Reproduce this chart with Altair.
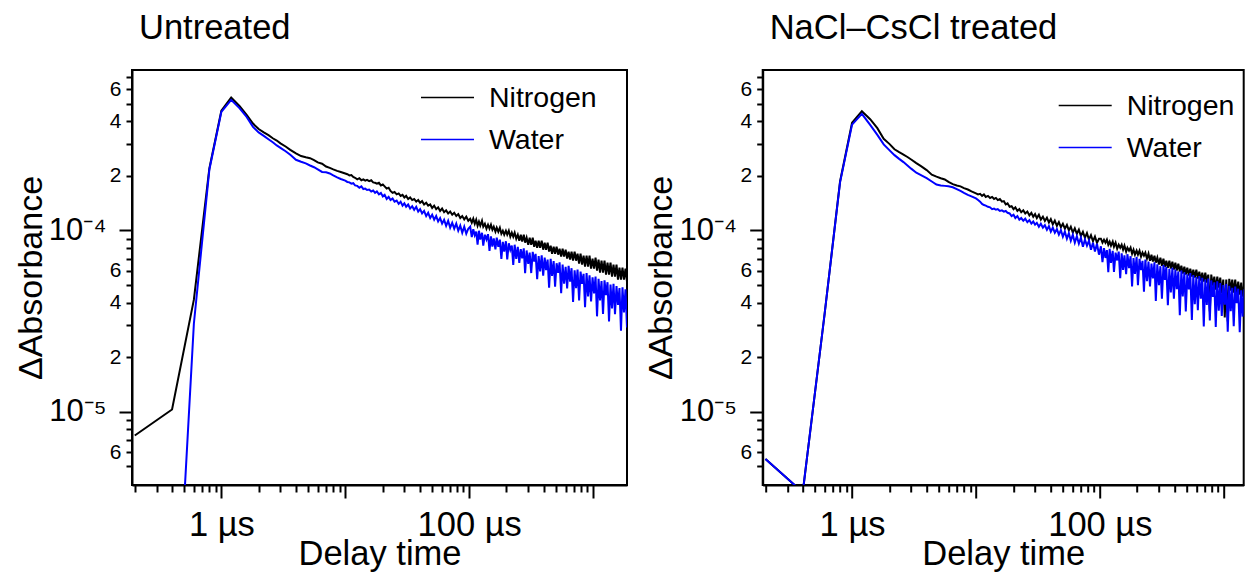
import altair as alt
import pandas as pd

# Delay time grid (microseconds)
time_us = [
    0.2, 0.4, 0.6, 0.8, 1.0, 1.2, 1.4, 1.6, 1.8, 2.0,
    2.2, 2.4, 2.6, 2.8, 3.0, 3.3, 3.6, 4.0, 4.4, 4.8, 5.2, 5.6, 6.0, 6.5, 7.0, 7.5, 8.0, 8.6, 9.2, 10,
    10.4, 10.8, 11.2, 11.6, 12, 12.5, 13, 13.5, 14, 14.5, 15, 15.6, 16.2, 16.8, 17.4, 18, 18.7, 19.4, 20.1, 20.8,
    21.6, 22.4, 23.2, 24.1, 25, 26, 27, 28, 29, 30, 31, 32.2, 33.4, 34.7, 36, 37.4, 38.8, 40.2, 41.7, 43.3,
    45, 46.7, 48.5, 50.3, 52.2, 54.2, 56.2, 58.3, 60.5, 62.8, 65.2, 67.7, 70.3, 73, 75.8, 78.7, 81.7, 84.8, 88, 91.3,
    94.8, 98.4,
    102, 105, 108, 111, 114, 117, 120, 123, 127, 130, 134, 138, 142, 146, 150, 154, 158, 163, 167, 172,
    177, 182, 187, 192, 198, 203, 209, 215, 221, 227, 233, 240, 247, 254, 261, 268, 276, 283, 291, 300,
    308, 317, 326, 335, 344, 354, 364, 374, 385, 396, 407, 418, 430, 442, 455, 467, 481, 494, 508, 523,
    537, 553, 568, 584, 601, 618, 635, 653, 671, 690, 710, 730, 750, 772, 793, 816, 839, 862, 887, 912,
    937, 964, 991, 1019, 1048, 1077, 1108, 1139, 1171, 1204, 1238, 1273, 1309, 1346, 1384, 1423, 1463, 1504, 1547, 1590,
    1635, 1681, 1729, 1777, 1828, 1880,
]

# Delta absorbance, in units of 1e-4
untreated_nitrogen_e4 = [
    0.074, 0.103, 0.415, 2.2, 4.57, 5.4, 4.85, 4.33, 3.88, 3.62,
    3.47, 3.35, 3.22, 3.13, 3.02, 2.9, 2.78, 2.66, 2.57, 2.53, 2.50, 2.44, 2.37, 2.33, 2.25, 2.21, 2.17, 2.13, 2.10, 2.06,
    2.04, 2.01, 2.02, 1.97, 1.95, 1.91, 1.94, 1.89, 1.91, 1.88, 1.90, 1.87, 1.89, 1.84, 1.83, 1.81, 1.83, 1.77, 1.79, 1.75,
    1.70, 1.72, 1.65, 1.61, 1.63, 1.58, 1.60, 1.55, 1.57, 1.52, 1.55, 1.49, 1.52, 1.47, 1.49, 1.44, 1.47, 1.42, 1.45, 1.39,
    1.42, 1.37, 1.39, 1.33, 1.37, 1.31, 1.34, 1.28, 1.32, 1.26, 1.29, 1.24, 1.27, 1.22, 1.25, 1.20, 1.23, 1.17, 1.20, 1.15,
    1.19, 1.13,
    1.160, 1.103, 1.160, 1.089, 1.145, 1.062, 1.117, 1.062, 1.131, 1.048, 1.089, 1.022, 1.075, 1.022, 1.075, 1.009, 1.048, 0.984, 1.035, 0.984,
    1.035, 0.959, 0.996, 0.947, 0.996, 0.947, 0.996, 0.923, 0.971, 0.923, 0.971, 0.900, 0.947, 0.878, 0.947, 0.867, 0.947, 0.856, 0.912, 0.834,
    0.912, 0.834, 0.912, 0.813, 0.878, 0.803, 0.878, 0.803, 0.878, 0.783, 0.856, 0.783, 0.856, 0.764, 0.824, 0.744, 0.813, 0.744, 0.813, 0.735,
    0.793, 0.717, 0.793, 0.717, 0.783, 0.699, 0.764, 0.690, 0.764, 0.681, 0.764, 0.681, 0.744, 0.656, 0.744, 0.648, 0.726, 0.631, 0.726, 0.631,
    0.726, 0.616, 0.699, 0.616, 0.708, 0.600, 0.690, 0.585, 0.681, 0.585, 0.681, 0.571, 0.664, 0.571, 0.664, 0.556, 0.648, 0.556, 0.648, 0.536,
    0.623, 0.536, 0.623, 0.536, 0.616, 0.522,
]
untreated_water_e4 = [
    None, 0.002, 0.306, 2.16, 4.5, 5.24, 4.72, 4.22, 3.72, 3.47,
    3.32, 3.18, 3.06, 2.94, 2.85, 2.73, 2.61, 2.45, 2.39, 2.34, 2.28, 2.23, 2.17, 2.10, 2.09, 2.06, 2.01, 1.96, 1.92, 1.88,
    1.85, 1.84, 1.81, 1.82, 1.77, 1.76, 1.72, 1.75, 1.69, 1.70, 1.67, 1.68, 1.64, 1.66, 1.61, 1.64, 1.58, 1.61, 1.54, 1.57,
    1.49, 1.53, 1.47, 1.50, 1.44, 1.46, 1.40, 1.44, 1.37, 1.41, 1.35, 1.39, 1.32, 1.36, 1.30, 1.35, 1.27, 1.31, 1.24, 1.28,
    1.20, 1.25, 1.17, 1.22, 1.145, 1.20, 1.12, 1.17, 1.09, 1.145, 1.06, 1.13, 1.035, 1.10, 1.022, 1.089, 0.996, 1.062, 0.971, 1.048,
    0.959, 1.022,
    1.048, 0.918, 1.015, 0.941, 0.986, 0.834, 0.996, 0.891, 0.971, 0.824, 0.947, 0.892, 0.953, 0.770, 0.928, 0.815, 0.903, 0.787, 0.912, 0.813,
    0.889, 0.696, 0.864, 0.764, 0.872, 0.692, 0.849, 0.781, 0.826, 0.645, 0.834, 0.697, 0.811, 0.663, 0.789, 0.701, 0.797, 0.581, 0.775, 0.654,
    0.755, 0.582, 0.762, 0.673, 0.742, 0.538, 0.721, 0.595, 0.728, 0.563, 0.708, 0.604, 0.690, 0.484, 0.697, 0.561, 0.678, 0.490, 0.659, 0.584,
    0.667, 0.450, 0.648, 0.509, 0.630, 0.479, 0.637, 0.522, 0.619, 0.403, 0.602, 0.481, 0.608, 0.411, 0.593, 0.507, 0.576, 0.377, 0.582, 0.433,
    0.566, 0.406, 0.551, 0.450, 0.556, 0.336, 0.541, 0.411, 0.526, 0.346, 0.531, 0.440, 0.518, 0.315, 0.503, 0.372, 0.508, 0.345, 0.494, 0.388,
    0.481, 0.280, 0.486, 0.353, 0.473, 0.292,
]
treated_nitrogen_e4 = [
    0.055, 0.036, 0.345, 1.86, 3.92, 4.54, 4.10, 3.66, 3.20, 3.00,
    2.80, 2.70, 2.62, 2.54, 2.46, 2.35, 2.26, 2.15, 2.03, 1.98, 1.94, 1.91, 1.85, 1.80, 1.77, 1.75, 1.71, 1.68, 1.64, 1.60,
    1.58, 1.59, 1.55, 1.58, 1.53, 1.55, 1.51, 1.53, 1.49, 1.51, 1.47, 1.49, 1.44, 1.45, 1.39, 1.41, 1.35, 1.36, 1.31, 1.34,
    1.28, 1.31, 1.26, 1.29, 1.24, 1.27, 1.21, 1.25, 1.19, 1.23, 1.17, 1.22, 1.147, 1.19, 1.127, 1.175, 1.105, 1.153, 1.079, 1.132,
    1.060, 1.112, 1.042, 1.089, 1.023, 1.071, 1.000, 1.048, 0.973, 1.026, 0.958, 1.009, 0.931, 0.981, 0.911, 0.966, 0.891, 0.940, 0.872, 0.925,
    0.854, 0.899,
    0.900, 0.856, 0.889, 0.856, 0.889, 0.834, 0.867, 0.824, 0.867, 0.813, 0.856, 0.793, 0.834, 0.803, 0.834, 0.783, 0.824, 0.764, 0.803, 0.773,
    0.803, 0.744, 0.783, 0.735, 0.773, 0.735, 0.773, 0.717, 0.754, 0.726, 0.754, 0.699, 0.744, 0.681, 0.735, 0.673, 0.726, 0.664, 0.708, 0.648,
    0.708, 0.639, 0.699, 0.631, 0.681, 0.623, 0.681, 0.616, 0.673, 0.608, 0.664, 0.600, 0.656, 0.593, 0.639, 0.578, 0.631, 0.571, 0.623, 0.563,
    0.616, 0.556, 0.608, 0.549, 0.608, 0.542, 0.593, 0.529, 0.585, 0.522, 0.585, 0.516, 0.571, 0.357, 0.571, 0.496, 0.556, 0.472, 0.556, 0.484,
    0.549, 0.449, 0.536, 0.331, 0.536, 0.315, 0.541, 0.466, 0.536, 0.454, 0.536, 0.449, 0.522, 0.443, 0.516, 0.432, 0.509, 0.432, 0.503, 0.421,
    0.490, 0.416, 0.484, 0.416, 0.478, 0.405,
]
treated_water_e4 = [
    0.055, 0.036, 0.345, 1.84, 3.83, 4.39, 3.82, 3.36, 2.98, 2.77,
    2.60, 2.48, 2.38, 2.28, 2.19, 2.08, 2.02, 1.94, 1.86, 1.79, 1.77, 1.76, 1.75, 1.73, 1.69, 1.65, 1.61, 1.57, 1.54, 1.50,
    1.47, 1.44, 1.40, 1.38, 1.37, 1.35, 1.34, 1.31, 1.32, 1.30, 1.31, 1.28, 1.29, 1.27, 1.28, 1.25, 1.24, 1.20, 1.22, 1.17,
    1.20, 1.145, 1.17, 1.13, 1.16, 1.11, 1.14, 1.09, 1.12, 1.075, 1.10, 1.048, 1.089, 1.035, 1.068, 1.009, 1.055, 0.984, 1.035, 0.971,
    1.016, 0.947, 1.003, 0.923, 0.984, 0.900, 0.966, 0.878, 0.947, 0.856, 0.929, 0.845, 0.912, 0.813, 0.889, 0.824, 0.878, 0.783, 0.856, 0.764,
    0.845, 0.735,
    0.818, 0.668, 0.798, 0.705, 0.779, 0.588, 0.791, 0.663, 0.771, 0.590, 0.754, 0.683, 0.764, 0.546, 0.748, 0.606, 0.728, 0.573, 0.739, 0.619,
    0.721, 0.491, 0.704, 0.575, 0.714, 0.499, 0.697, 0.604, 0.680, 0.459, 0.690, 0.525, 0.673, 0.491, 0.657, 0.543, 0.667, 0.409, 0.651, 0.499,
    0.635, 0.420, 0.644, 0.534, 0.629, 0.387, 0.614, 0.455, 0.622, 0.420, 0.608, 0.475, 0.594, 0.341, 0.601, 0.433, 0.588, 0.357, 0.573, 0.473,
    0.582, 0.321, 0.567, 0.392, 0.554, 0.363, 0.561, 0.420, 0.548, 0.295, 0.536, 0.388, 0.543, 0.319, 0.530, 0.430, 0.518, 0.294, 0.524, 0.361,
    0.512, 0.338, 0.500, 0.389, 0.507, 0.276, 0.495, 0.359, 0.483, 0.296, 0.490, 0.397, 0.477, 0.275, 0.467, 0.335, 0.474, 0.312, 0.462, 0.359,
    0.452, 0.255, 0.458, 0.333, 0.447, 0.276,
]

series_names = ["Nitrogen", "Water"]
series_colors = ["#000000", "#0000ff"]
panel_titles = ["Untreated", "NaCl\u2013CsCl treated"]

y_tick_values = [5e-6, 6e-6, 7e-6, 8e-6, 9e-6,
                 1e-5, 2e-5, 3e-5, 4e-5, 5e-5, 6e-5, 7e-5, 8e-5, 9e-5,
                 1e-4, 2e-4, 3e-4, 4e-4, 5e-4, 6e-4, 7e-4]
x_tick_values = [0.2, 0.3, 0.4, 0.5, 0.6, 0.7, 0.8, 0.9,
                 1, 2, 3, 4, 5, 6, 7, 8, 9,
                 10, 20, 30, 40, 50, 60, 70, 80, 90,
                 100, 200, 300, 400, 500, 600, 700, 800, 900, 1000]

FONT = "Liberation Sans"
Y_DOMAIN = [3.95e-6, 7.66e-4]
X_DOMAIN_LEFT = [0.19, 1880]
X_DOMAIN_RIGHT = [0.19, 1449]   # right panel is cut by the page edge

L10 = "(log(datum.value)/LN10)"
DEC = f"abs({L10} - round({L10})) < 0.001"
MANT = f"round(datum.value / pow(10, floor({L10} + 0.0001)))"
y_label_expr = (
    f"abs({L10} + 4) < 0.001 ? '10\u207b\u2074' : "
    f"abs({L10} + 5) < 0.001 ? '10\u207b\u2075' : "
    f"({MANT} == 2 || {MANT} == 4 || {MANT} == 6) ? '' + {MANT} : ''"
)
x_label_expr = ("abs(datum.value - 1) < 1e-6 ? '1 \u00b5s' : "
                "abs(datum.value - 100) < 1e-4 ? '100 \u00b5s' : ''")


def make_table(nitrogen, water):
    rows = []
    for t, n, w in zip(time_us, nitrogen, water):
        if n is not None:
            rows.append({"t": t, "dA": n * 1e-4, "series": "Nitrogen"})
        if w is not None:
            rows.append({"t": t, "dA": w * 1e-4, "series": "Water"})
    return pd.DataFrame(rows)


def panel(idx, nitrogen, water, x_domain, width, lx, ly):
    df = make_table(nitrogen, water)
    x_axis = alt.Axis(
        values=x_tick_values, labelExpr=x_label_expr,
        tickSize={"condition": {"test": DEC, "value": 13}, "value": 7},
        labelFontSize=34.5, labelFont=FONT, labelPadding=10.3, labelOverlap=False,
        labelFlush=False, labelColor="black",
        titleFontSize=34.5, titleFont=FONT, titleFontWeight="normal", titlePadding=-4.3,
        titleColor="black", domainColor="black", domainWidth=2,
        tickColor="black", tickWidth=2, grid=False,
    )
    y_axis = alt.Axis(
        values=y_tick_values, labelExpr=y_label_expr,
        tickSize={"condition": {"test": DEC, "value": 13}, "value": 6},
        labelFontSize={"condition": {"test": DEC, "value": 31}, "value": 21},
        labelPadding={"condition": {"test": DEC, "value": 13}, "value": 5},
        labelFont=FONT, labelOverlap=False, labelFlush=False,
        labelColor="black",
        titleFontSize=34, titleFont=FONT, titleFontWeight="normal", titlePadding=0,
        titleColor="black", domainColor="black", domainWidth=2,
        tickColor="black", tickWidth=2, grid=False,
    )
    return alt.Chart(df).mark_line(strokeWidth=2, clip=True).encode(
        x=alt.X("t:Q", title="Delay time",
                scale=alt.Scale(type="log", domain=x_domain, nice=False), axis=x_axis),
        y=alt.Y("dA:Q", title="\u0394Absorbance",
                scale=alt.Scale(type="log", domain=Y_DOMAIN, nice=False), axis=y_axis),
        color=alt.Color(
            "series:N",
            scale=alt.Scale(domain=series_names, range=series_colors),
            legend=alt.Legend(
                title=None, orient="none", legendX=lx, legendY=ly,
                symbolType="stroke", symbolSize=2809, symbolStrokeWidth=1.5,
                labelFontSize=28.5, labelFont=FONT, labelColor="black",
                labelOffset=14, rowPadding=-3, padding=0,
            ),
        ),
    ).properties(
        width=width, height=415,
        title=alt.TitleParams(panel_titles[idx], anchor="start", frame="group",
                              fontSize=34.5, font=FONT, fontWeight="normal",
                              offset=20, dx=7, color="black"),
    )


left = panel(0, untreated_nitrogen_e4, untreated_water_e4, X_DOMAIN_LEFT, 495, 288, 0)
right = panel(1, treated_nitrogen_e4, treated_water_e4, X_DOMAIN_RIGHT, 481, 295, 8)

chart = alt.hconcat(left, right, spacing=15.7).resolve_scale(
    color="independent"
).resolve_legend(color="independent").properties(
    padding={"left": 5, "top": 1, "right": 0, "bottom": 0}
).configure_view(stroke="black", strokeWidth=2)

chart.save("out.html", embed_options={"renderer": "svg", "actions": False})
